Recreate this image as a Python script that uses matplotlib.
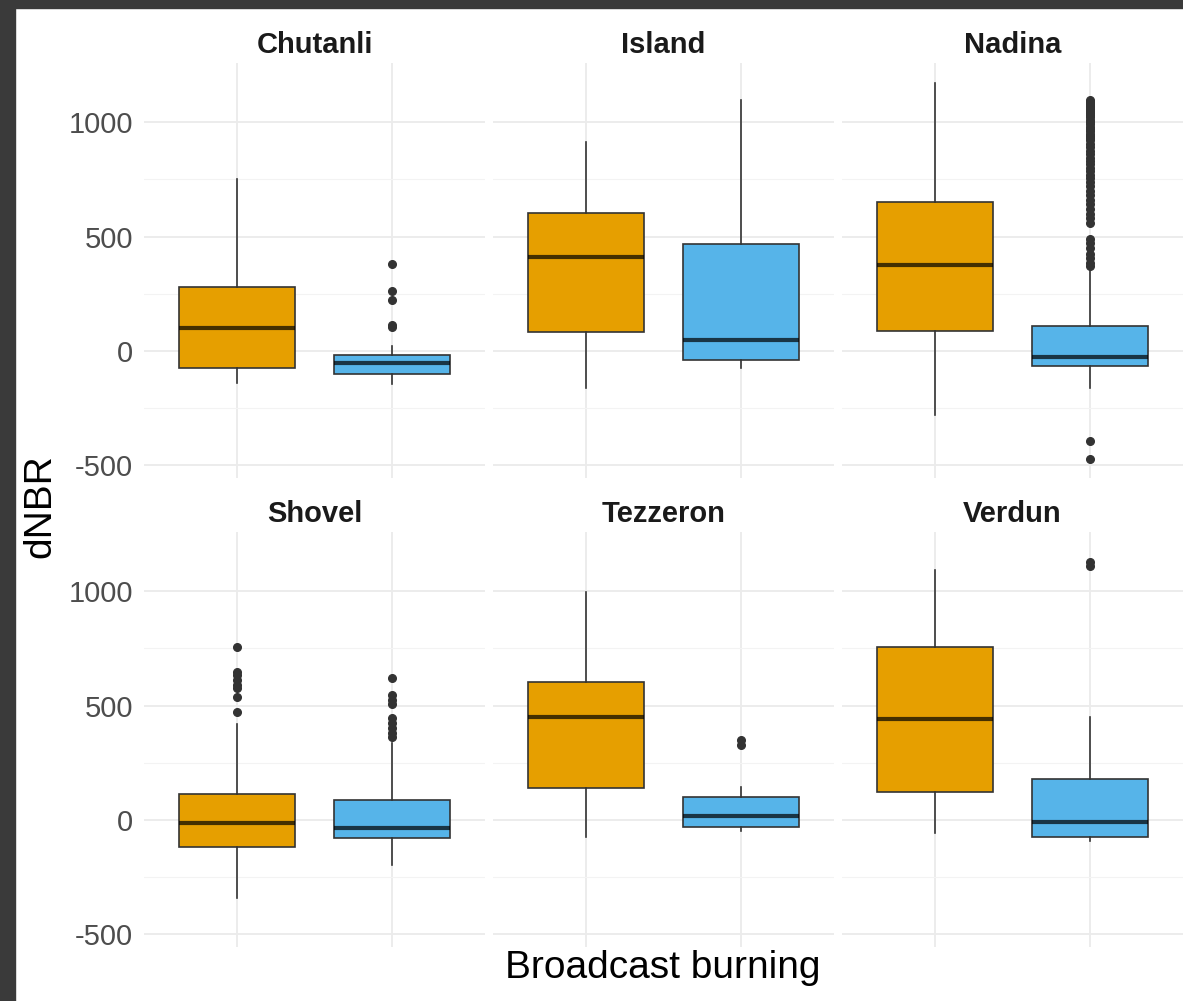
import matplotlib.pyplot as plt
from matplotlib.patches import Rectangle

# values (dNBR)
sites = ["Chutanli", "Island", "Nadina", "Shovel", "Tezzeron", "Verdun"]
groups = ["No", "Yes"]
colors = ["#E69F00", "#56B4E9"]

# [orange, blue] per site
whisker_low = [[-140, -144], [-162, -74], [-280, -162], [-340, -197], [-74, -48], [-57, -92]]
q1 = [[-74, -100], [83, -39], [87, -66], [-118, -79], [140, -31], [122, -74]]
median = [[100, -52], [410, 48], [376, -26], [-13, -35], [450, 17], [441, -9]]
q3 = [[279, -17], [603, 467], [651, 109], [114, 87], [602, 100], [755, 179]]
whisker_high = [[751, 22], [913, 1096], [1172, 367], [419, 336], [996, 144], [1092, 450]]

outliers = [
    [[], [380, 262, 223, 114, 105]],
    [[], []],
    [[], [1096, 1088, 1080, 1072, 1064, 1056, 1048, 1040, 1030, 1020, 1010, 1000,
          990, 980, 970, 960, 950, 940, 930, 920, 905, 890, 875, 860, 845, 830,
          815, 800, 785, 770, 755, 738, 720, 700, 680, 660, 640, 620, 600, 580,
          560, 490, 470, 450, 425, 405, 385, 370, -393, -472]],
    [[755, 646, 633, 611, 590, 576, 537, 472], [620, 546, 524, 507, 445, 424, 402, 380, 362]],
    [[], [349, 328]],
    [[], [1127, 1109]],
]

W, H = 1183, 1001
plt.rcParams['font.family'] = ['Liberation Sans', 'DejaVu Sans']
plt.rcParams['axes.unicode_minus'] = False
fig = plt.figure(figsize=(W / 100, H / 100), dpi=100)

# dark frame on top and left edges
fig.patches.append(Rectangle((0, 1 - 8 / H), 1, 8 / H, transform=fig.transFigure,
                             color="#3a3a3a", zorder=0))
fig.patches.append(Rectangle((0, 0), 15 / W, 1, transform=fig.transFigure,
                             color="#3a3a3a", zorder=0))

pw, gap = 341, 8
lefts = [144, 144 + pw + gap, 144 + 2 * (pw + gap)]
tops = [63, 532]
ph = 415

for i, site in enumerate(sites):
    r, c = divmod(i, 3)
    ax = fig.add_axes([lefts[c] / W, 1 - (tops[r] + ph) / H, pw / W, ph / H])
    stats = []
    for g in range(2):
        stats.append(dict(med=median[i][g], q1=q1[i][g], q3=q3[i][g],
                          whislo=whisker_low[i][g], whishi=whisker_high[i][g],
                          fliers=outliers[i][g]))
    bp = ax.bxp(stats, positions=[1, 2], widths=0.75, patch_artist=True,
                showcaps=False,
                boxprops=dict(edgecolor="#333333", linewidth=1.2),
                whiskerprops=dict(color="#333333", linewidth=1.2),
                medianprops=dict(color="black", alpha=0.7, linewidth=3, solid_capstyle="butt"),
                flierprops=dict(marker="o", markersize=5.5, markerfacecolor="#333333",
                                markeredgecolor="#333333"))
    for patch, col in zip(bp["boxes"], colors):
        patch.set_facecolor(col)
        patch.set_zorder(2)
    ax.set_xlim(0.4, 2.6)
    ax.set_ylim(-555, 1258)
    ax.set_yticks([-500, 0, 500, 1000])
    ax.set_yticks([-250, 250, 750], minor=True)
    ax.set_xticks([1, 2])
    ax.set_xticklabels([])
    ax.grid(True, which="major", color="#EBEBEB", linewidth=1.3)
    ax.grid(True, which="minor", axis="y", color="#F3F3F3", linewidth=0.8)
    ax.set_axisbelow(True)
    for s in ax.spines.values():
        s.set_visible(False)
    ax.tick_params(which="both", length=0)
    ax.tick_params(axis="y", labelsize=21, labelcolor="#4D4D4D", pad=8)
    if c != 0:
        ax.set_yticklabels([])
    fig.text((lefts[c] + pw / 2) / W, 1 - (tops[r] - 18) / H, site,
             ha="center", va="center", fontsize=21, fontweight="bold", color="#1A1A1A")

fig.text(40 / W, 1 - 506 / H, "dNBR", rotation=90, ha="center", va="center",
         fontsize=28, color="black")
fig.text(663 / W, 1 - 968 / H, "Broadcast burning", ha="center", va="center",
         fontsize=28, color="black")

fig.savefig("out.png", dpi=100, facecolor="white")
